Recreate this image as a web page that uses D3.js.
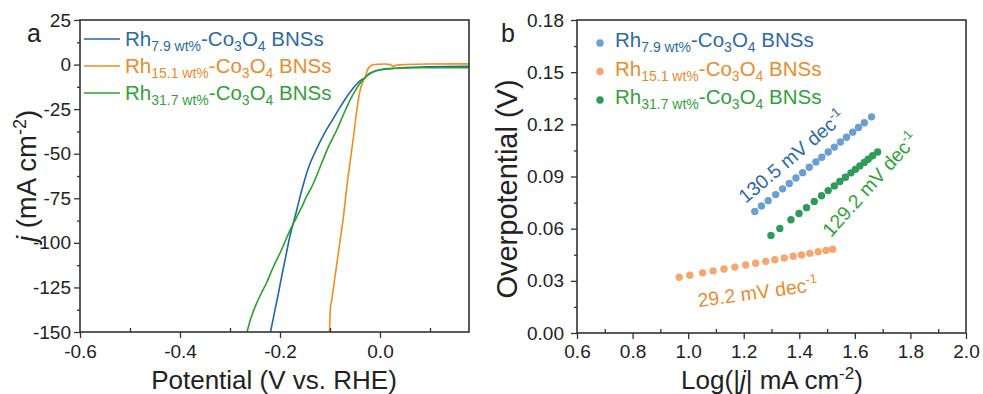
<!DOCTYPE html>
<html>
<head>
<meta charset="utf-8">
<script src="https://cdn.jsdelivr.net/npm/d3@7"></script>
<style>
    body { margin: 0; background: #fff; }
    svg { font-family: "Liberation Sans", Arial, sans-serif; }
    text { white-space: pre; }
</style>
</head>
<body>
<svg id="chart"></svg>
<script>

// (a) LSV curves: [potential V vs RHE, j mA cm-2]
const lsv_79 = [[-0.219,-150],[-0.211,-139],[-0.203,-128],[-0.195,-116.5],[-0.187,-105.5],[-0.180,-96],
    [-0.173,-88.5],[-0.166,-81],[-0.158,-72],[-0.150,-64],[-0.142,-57],[-0.133,-51],[-0.123,-45],
    [-0.110,-38],[-0.095,-31],[-0.080,-24],[-0.065,-17.5],[-0.050,-12],[-0.040,-9.2],[-0.030,-7.3],
    [-0.022,-5.3],[-0.012,-3.9],[0.000,-3.0],[0.020,-2.3],[0.050,-1.7],[0.100,-1.2],[0.178,-0.9]];
const lsv_151 = [[-0.101,-150],[-0.100,-141],[-0.099,-136],[-0.097,-133],[-0.093,-125],[-0.087,-113],
    [-0.080,-99],[-0.073,-85],[-0.067,-70],[-0.060,-55],[-0.053,-40.5],[-0.047,-27],[-0.041,-16],
    [-0.035,-10],[-0.030,-7.3],[-0.025,-3.0],[-0.020,-1.0],[-0.014,-0.1],[-0.005,0.2],[0.010,0.3],
    [0.020,0.0],[0.026,-0.9],[0.032,-0.4],[0.050,0.0],[0.100,0.3],[0.178,0.4]];
const lsv_317 = [[-0.266,-150],[-0.258,-142],[-0.247,-134],[-0.237,-128],[-0.227,-122.5],[-0.218,-116.5],
    [-0.210,-111.5],[-0.197,-104],[-0.188,-98],[-0.180,-93],[-0.171,-88],[-0.163,-83.5],[-0.155,-79],
    [-0.147,-74],[-0.138,-69.5],[-0.130,-64.5],[-0.117,-55.5],[-0.103,-46],[-0.087,-37],[-0.073,-28],
    [-0.060,-20],[-0.047,-13.5],[-0.038,-9.8],[-0.030,-7.3],[-0.020,-5],[-0.008,-3.4],[0.005,-2.6],
    [0.030,-2.1],[0.080,-1.8],[0.178,-1.7]];

// (b) Tafel points: [log|j|, overpotential V]
const tafel_79 = [[1.240,0.0699],[1.264,0.0730],[1.288,0.0761],[1.315,0.0796],[1.340,0.0829],
    [1.364,0.0860],[1.388,0.0891],[1.412,0.0922],[1.436,0.0953],[1.460,0.0984],[1.481,0.1011],
    [1.504,0.1041],[1.526,0.1069],[1.548,0.1098],[1.570,0.1126],[1.592,0.1155],[1.613,0.1182],
    [1.634,0.1209],[1.660,0.1243]];
const tafel_151 = [[0.968,0.0321],[1.006,0.0332],[1.052,0.0346],[1.090,0.0357],[1.129,0.0368],
    [1.168,0.0379],[1.207,0.0391],[1.243,0.0401],[1.279,0.0412],[1.312,0.0421],[1.346,0.0431],
    [1.378,0.0441],[1.408,0.0449],[1.438,0.0458],[1.468,0.0467],[1.496,0.0475],[1.520,0.0482]];
const tafel_317 = [[1.298,0.0561],[1.330,0.0601],[1.370,0.0651],[1.399,0.0687],[1.426,0.0721],
    [1.454,0.0756],[1.480,0.0789],[1.504,0.0819],[1.526,0.0846],[1.546,0.0871],[1.566,0.0896],
    [1.586,0.0921],[1.602,0.0941],[1.618,0.0961],[1.634,0.0981],[1.648,0.0999],[1.664,0.1019],
    [1.682,0.1041]];

const loadings = ['7.9', '15.1', '31.7'];
const slopes = ['130.5', '29.2', '129.2'];

const lsv_xticks = [-0.6, -0.4, -0.2, 0.0];
const lsv_yticks = [25, 0, -25, -50, -75, -100, -125, -150];
const tafel_xticks = [0.6, 0.8, 1.0, 1.2, 1.4, 1.6, 1.8, 2.0];
const tafel_yticks = [0.00, 0.03, 0.06, 0.09, 0.12, 0.15, 0.18];

const line_colors = ['#1f67a6', '#f28e1c', '#2aa02f'];
const dot_colors = ['#6b9fd1', '#f4a76f', '#2e9b5b'];
const label_colors = ['#2d6aa5', '#ea8b2c', '#33a13a'];
const axis_color = '#333';

const svg = d3.select('#chart').attr('width', 983).attr('height', 394);
svg.append('rect').attr('width', 983).attr('height', 394).attr('fill', '#fff');

function drawAxes(g, xscale, yscale, w, h, opts) {
    g.append('g')
        .attr('transform', `translate(0, ${h})`)
        .call(d3.axisBottom(xscale).tickValues(opts.xticks).tickSize(6)
            .tickPadding(opts.xpad).tickFormat(opts.xfmt));
    g.append('g')
        .attr('transform', `translate(0, ${h})`)
        .call(d3.axisBottom(xscale).tickValues(opts.xminor).tickSize(-4).tickFormat(''));
    g.append('g')
        .call(d3.axisLeft(yscale).tickValues(opts.yticks).tickSize(6)
            .tickPadding(opts.ypad).tickFormat(opts.yfmt));
    g.append('g')
        .call(d3.axisLeft(yscale).tickValues(opts.yminor).tickSize(3).tickFormat(''));

    g.selectAll('.domain').remove();
    g.selectAll('.tick line').attr('stroke', axis_color).attr('stroke-width', 1.3);
    g.selectAll('.tick text').attr('fill', '#222').attr('font-size', 19)
        .attr('font-family', '"Liberation Sans", Arial, sans-serif');

    g.append('rect')
        .attr('width', w).attr('height', h)
        .attr('fill', 'none').attr('stroke', axis_color).attr('stroke-width', 1.6);
}

function sampleLabel(text, loading) {
    text.append('tspan').text('Rh');
    text.append('tspan').attr('font-size', 14).attr('dy', 5).text(loading + ' wt%');
    text.append('tspan').attr('dy', -5).text('-Co');
    text.append('tspan').attr('font-size', 14).attr('dy', 5).text('3');
    text.append('tspan').attr('dy', -5).text('O');
    text.append('tspan').attr('font-size', 14).attr('dy', 5).text('4');
    text.append('tspan').attr('dy', -5).text(' BNSs');
}

// ---------- panel a ----------
class LsvChart {

    constructor(config, curves) {
        this.config = {
            parent: config.parent,
            left: config.left,
            top: config.top,
            width: config.width,
            height: config.height
        };
        this.curves = curves;
        this.init();
    }

    init() {
        let self = this;
        self.chart = self.config.parent.append('g')
            .attr('transform', `translate(${self.config.left}, ${self.config.top})`);

        self.xscale = d3.scaleLinear().domain([-0.6, 0.178]).range([0, self.config.width]);
        self.yscale = d3.scaleLinear().domain([-150, 25]).range([self.config.height, 0]);

        self.line = d3.line()
            .curve(d3.curveMonotoneX)
            .x(d => self.xscale(d[0]))
            .y(d => self.yscale(d[1]));
    }

    render() {
        let self = this;
        const w = self.config.width, h = self.config.height;

        self.chart.append('clipPath').attr('id', 'clip-a')
            .append('rect').attr('width', w).attr('height', h);

        self.curves.forEach((c, i) => {
            self.chart.append('path')
                .attr('d', self.line(c))
                .attr('fill', 'none')
                .attr('stroke', line_colors[i])
                .attr('stroke-width', 1.6)
                .attr('clip-path', 'url(#clip-a)');
        });

        drawAxes(self.chart, self.xscale, self.yscale, w, h, {
            xticks: lsv_xticks, xminor: d3.range(-0.5, 0.15, 0.2), xfmt: d => d.toFixed(1), xpad: 7,
            yticks: lsv_yticks, yminor: d3.range(12.5, -150, -25), yfmt: d => String(d), ypad: 3
        });

        // legend
        loadings.forEach((l, i) => {
            const y = 26 + i * 27;
            self.chart.append('line')
                .attr('x1', 4).attr('x2', 40).attr('y1', y - 7).attr('y2', y - 7)
                .attr('stroke', line_colors[i]).attr('stroke-width', 1.6);
            const t = self.chart.append('text')
                .attr('x', 45).attr('y', y)
                .attr('font-size', 20.5).attr('fill', label_colors[i]);
            sampleLabel(t, l);
        });

        self.chart.append('text')
            .attr('x', -53).attr('y', 22)
            .attr('font-size', 25).attr('fill', '#222').text('a');

        const yt = self.chart.append('text')
            .attr('transform', `translate(-44, ${h / 2})rotate(-90)`)
            .attr('text-anchor', 'middle').attr('font-size', 27.5).attr('fill', '#222');
        yt.append('tspan').attr('font-style', 'italic').text('j');
        yt.append('tspan').text(' (mA cm');
        yt.append('tspan').attr('font-size', 18).attr('dy', -10).text('-2');
        yt.append('tspan').attr('dy', 10).text(')');

        self.chart.append('text')
            .attr('x', 274 - self.config.left).attr('y', 389 - self.config.top)
            .attr('text-anchor', 'middle').attr('font-size', 26).attr('fill', '#222')
            .text('Potential (V vs. RHE)');
    }
}

// ---------- panel b ----------
class TafelChart {

    constructor(config, sets) {
        this.config = {
            parent: config.parent,
            left: config.left,
            top: config.top,
            width: config.width,
            height: config.height
        };
        this.sets = sets;
        this.init();
    }

    init() {
        let self = this;
        self.chart = self.config.parent.append('g')
            .attr('transform', `translate(${self.config.left}, ${self.config.top})`);

        self.xscale = d3.scaleLinear().domain([0.6, 2.0]).range([0, self.config.width]);
        self.yscale = d3.scaleLinear().domain([0, 0.18]).range([self.config.height, 0]);
    }

    render() {
        let self = this;
        const w = self.config.width, h = self.config.height;

        self.sets.forEach((s, i) => {
            self.chart.append('g').selectAll('circle')
                .data(s)
                .join('circle')
                .attr('cx', d => self.xscale(d[0]))
                .attr('cy', d => self.yscale(d[1]))
                .attr('r', 3.7)
                .attr('fill', dot_colors[i]);
        });

        drawAxes(self.chart, self.xscale, self.yscale, w, h, {
            xticks: tafel_xticks, xminor: d3.range(0.7, 2.0, 0.2), xfmt: d => d.toFixed(1), xpad: 6,
            yticks: tafel_yticks, yminor: d3.range(0.015, 0.18, 0.03), yfmt: d => d.toFixed(2), ypad: 7
        });

        // slope labels: [x, y, angle] in data units
        const slope_pos = [[1.372, 0.1015, -40], [1.25, 0.0235, -8], [1.655, 0.0855, -48]];
        slopes.forEach((s, i) => {
            const p = slope_pos[i];
            const t = self.chart.append('text')
                .attr('transform', `translate(${self.xscale(p[0])}, ${self.yscale(p[1])})rotate(${p[2]})`)
                .attr('text-anchor', 'middle').attr('dy', '0.35em')
                .attr('font-size', 19.5).attr('fill', label_colors[i]);
            t.append('tspan').text(s + ' mV dec');
            t.append('tspan').attr('font-size', 13).attr('dy', -8).text('-1');
        });

        // legend
        loadings.forEach((l, i) => {
            const y = 27 + i * 28.5;
            self.chart.append('circle')
                .attr('cx', 23).attr('cy', y - 4).attr('r', 3.7)
                .attr('fill', dot_colors[i]);
            const t = self.chart.append('text')
                .attr('x', 38).attr('y', y)
                .attr('font-size', 20.5).attr('fill', label_colors[i]);
            sampleLabel(t, l);
        });

        self.chart.append('text')
            .attr('x', -76).attr('y', 22)
            .attr('font-size', 25).attr('fill', '#222').text('b');

        self.chart.append('text')
            .attr('transform', `translate(-60, ${189 - self.config.top})rotate(-90)`)
            .attr('text-anchor', 'middle').attr('font-size', 29).attr('fill', '#222')
            .text('Overpotential (V)');

        const xt = self.chart.append('text')
            .attr('x', 772 - self.config.left).attr('y', 389 - self.config.top)
            .attr('text-anchor', 'middle').attr('font-size', 26).attr('fill', '#222');
        xt.append('tspan').text('Log(|');
        xt.append('tspan').attr('font-style', 'italic').text('j');
        xt.append('tspan').text('| mA cm');
        xt.append('tspan').attr('font-size', 17).attr('dy', -10).text('-2');
        xt.append('tspan').attr('dy', 10).text(')');
    }
}

const chart_a = new LsvChart({ parent: svg, left: 80, top: 20, width: 389, height: 312 },
    [lsv_79, lsv_151, lsv_317]);
chart_a.render();

const chart_b = new TafelChart({ parent: svg, left: 577, top: 20, width: 389, height: 313 },
    [tafel_79, tafel_151, tafel_317]);
chart_b.render();

</script>
</body>
</html>
